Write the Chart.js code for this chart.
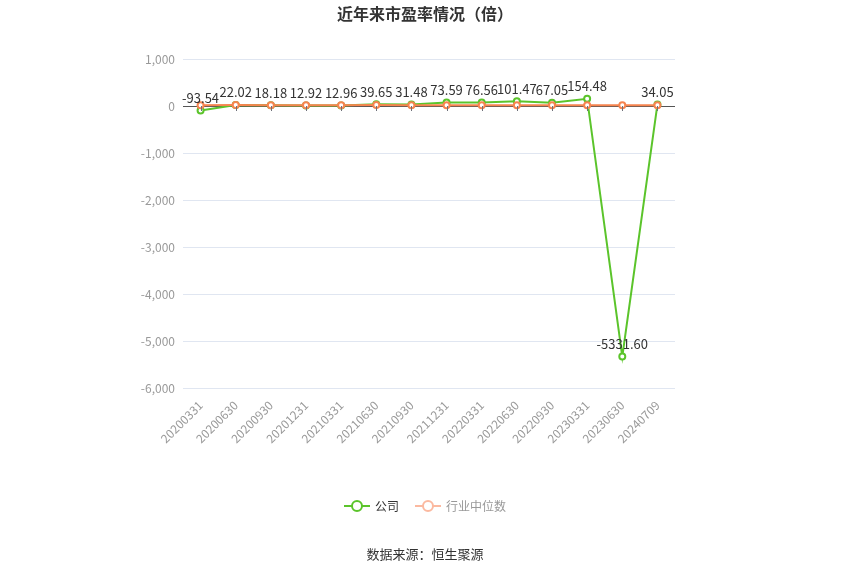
<!DOCTYPE html>
<html>
<head>
<meta charset="utf-8">
<script src="https://cdn.jsdelivr.net/npm/chart.js@4.4.0/dist/chart.umd.min.js"></script>
<style>
  body { margin: 0; background: #fff; }
  #wrap { width: 850px; height: 575px; }
</style>
</head>
<body>
<div id="wrap"><canvas id="peChart"></canvas></div>
<script>
const categories = ['20200331', '20200630', '20200930', '20201231', '20210331', '20210630', '20210930',
    '20211231', '20220331', '20220630', '20220930', '20230331', '20230630', '20240709'];
const companyPE = [-93.54, 22.02, 18.18, 12.92, 12.96, 39.65, 31.48, 73.59, 76.56, 101.47, 67.05, 154.48, -5331.60, 34.05];
const industryPE = [18.5, 19.2, 18.1, 17.6, 18.3, 19.5, 18.4, 17.2, 16.5, 15.8, 15.1, 14.6, 13.9, 14.2];
const yTicks = [1000, 0, -1000, -2000, -3000, -4000, -5000, -6000];

const FONT = "'Noto Sans CJK SC', 'Noto Sans', sans-serif";
const GREEN = '#5bc42b';
const ORANGE = '#f6844f';

// title, legend and source are drawn centred on the whole canvas
const decorations = {
    id: 'decorations',
    afterDraw(chart) {
        const ctx = chart.ctx;
        const x = chart.scales.x, y = chart.scales.y;
        const y0 = y.getPixelForValue(0);
        ctx.save();
        // small ticks under the zero line
        ctx.strokeStyle = '#6e7079';
        ctx.lineWidth = 1;
        for (let i = 0; i < categories.length; i++) {
            let px = Math.round(x.getPixelForValue(i)) + 0.5;
            ctx.beginPath(); ctx.moveTo(px, y0); ctx.lineTo(px, y0 + 5); ctx.stroke();
        }

        ctx.textBaseline = 'middle';
        ctx.textAlign = 'center';
        ctx.font = 'bold 16px ' + FONT;
        ctx.fillStyle = '#333';
        ctx.fillText('近年来市盈率情况（倍）', 425, 14);

        ctx.font = '13px ' + FONT;
        ctx.fillText('数据来源：恒生聚源', 425, 554);

        // legend
        const items = [
            { text: chart.data.datasets[0].label, line: GREEN, color: '#333' },
            { text: chart.data.datasets[1].label, line: '#fbb9a0', color: '#999' }
        ];
        ctx.font = '12px ' + FONT;
        ctx.textAlign = 'left';
        const gap = 16, mark = 26, pad = 5;
        let total = 0;
        items.forEach(it => { it.w = mark + pad + ctx.measureText(it.text).width; total += it.w; });
        total += gap;
        let lx = 425 - total / 2;
        const ly = 506;
        items.forEach(it => {
            ctx.strokeStyle = it.line;
            ctx.lineWidth = 2;
            ctx.beginPath(); ctx.moveTo(lx, ly); ctx.lineTo(lx + mark, ly); ctx.stroke();
            ctx.fillStyle = '#fff';
            ctx.beginPath(); ctx.arc(lx + mark / 2, ly, 5, 0, Math.PI * 2); ctx.fill(); ctx.stroke();
            ctx.fillStyle = it.color;
            ctx.fillText(it.text, lx + mark + pad, ly);
            lx += it.w + gap;
        });
        ctx.restore();
    }
};

const valueLabels = {
    id: 'valueLabels',
    afterDatasetsDraw(chart) {
        const ctx = chart.ctx;
        const meta = chart.getDatasetMeta(0);
        ctx.save();
        ctx.font = '13px ' + FONT;
        ctx.fillStyle = '#333';
        ctx.textAlign = 'center';
        ctx.textBaseline = 'bottom';
        meta.data.forEach(function(pt, i) {
            ctx.fillText(companyPE[i].toFixed(2), pt.x, pt.y - 6);
        });
        ctx.restore();
    }
};

new Chart(document.getElementById('peChart'), {
    type: 'line',
    data: {
        labels: categories,
        datasets: [{
            label: '公司',
            data: companyPE,
            borderColor: GREEN,
            backgroundColor: '#fff',
            pointBorderColor: GREEN,
            pointBackgroundColor: '#fff',
            borderWidth: 2,
            pointRadius: 3,
            pointBorderWidth: 2,
            tension: 0,
            order: 2
        }, {
            label: '行业中位数',
            data: industryPE,
            borderColor: ORANGE,
            backgroundColor: '#fff',
            pointBorderColor: ORANGE,
            pointBackgroundColor: '#fff',
            borderWidth: 2,
            pointRadius: 3,
            pointBorderWidth: 2,
            tension: 0,
            order: 1
        }]
    },
    options: {
        responsive: true,
        maintainAspectRatio: false,
        animation: false,
        layout: { padding: { left: 0, right: 175, top: 59, bottom: 87 } },
        plugins: {
            title: { display: false },
            legend: { display: false },
            tooltip: { enabled: false }
        },
        scales: {
            x: {
                offset: true,
                grid: { display: false },
                border: { display: false },
                ticks: {
                    color: '#999',
                    font: { family: FONT, size: 12 },
                    maxRotation: 45,
                    minRotation: 45,
                    autoSkip: false,
                    padding: 2
                },
                afterFit: function(s) { s.height = 100; }
            },
            y: {
                min: -6000,
                max: 1000,
                afterBuildTicks: function(s) { s.ticks = yTicks.map(v => ({ value: v })); },
                grid: {
                    drawTicks: false,
                    color: function(c) { return c.tick && c.tick.value === 0 ? '#555' : '#e0e6f1'; }
                },
                border: { display: false },
                ticks: {
                    color: '#999',
                    padding: 8,
                    font: { family: FONT, size: 12 },
                    callback: function(v) { return v.toLocaleString('en-US'); }
                },
                afterFit: function(s) { s.width = 183; }
            }
        }
    },
    plugins: [valueLabels, decorations]
});
</script>
</body>
</html>
